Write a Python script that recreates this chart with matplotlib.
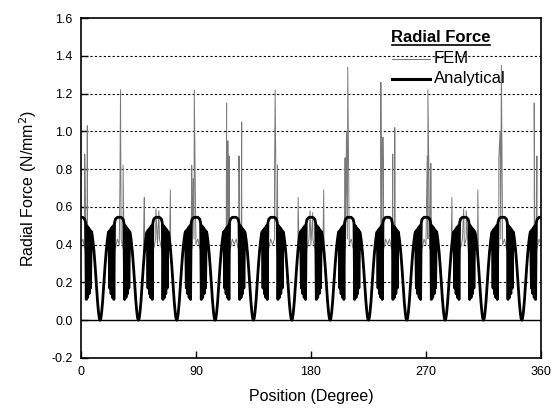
import numpy as np
import matplotlib
matplotlib.use("Agg")
import matplotlib.pyplot as plt
from matplotlib.lines import Line2D

plt.rcParams['font.family'] = ['Liberation Sans', 'DejaVu Sans']

# hump centres (one every 30 deg) and one-sided profiles
pole_centres = [0, 30, 60, 90, 120, 150, 180, 210, 240, 270, 300, 330, 360]

side_offset = [0, 1.5, 3.0, 3.7, 4.2, 4.8, 5.3, 5.9, 6.4, 7.0, 7.5, 8.1, 8.6,
               9.4, 10.3, 11.2, 12.1, 13.0, 13.8, 14.4, 15.0]
analytical_side = [0.545, 0.545, 0.535, 0.515, 0.11, 0.50, 0.12, 0.49, 0.14, 0.48,
                   0.17, 0.47, 0.46, 0.42, 0.36, 0.28, 0.19, 0.10, 0.04, 0.01, 0.0]
fem_side = [0.40, 0.43, 0.38, 0.41, 0.14, 0.40, 0.16, 0.42, 0.18, 0.40,
            0.22, 0.45, 0.44, 0.40, 0.34, 0.26, 0.17, 0.09, 0.035, 0.01, 0.0]

# FEM spikes: position (deg) and peak value
spike_pos = [3.0, 5.0, 30.5, 31.0, 33.0, 49.6, 58.7, 61.0, 70.0, 86.7, 87.8, 88.7,
             114.0, 115.0, 116.0, 123.7, 125.8, 151.5, 152.0, 153.8, 170.0, 179.3,
             181.4, 190.0, 206.7, 207.8, 208.8, 234.7, 236.3, 244.0, 245.6, 271.0,
             271.5, 273.8, 290.3, 299.5, 301.5, 310.6, 327.0, 328.0, 329.0,
             354.7, 356.8]
spike_val = [0.88, 1.03, 0.70, 1.22, 0.82, 0.65, 0.59, 0.58, 0.69, 0.82, 0.75, 1.22,
             1.15, 0.95, 0.87, 0.87, 1.05, 0.78, 1.22, 0.82, 0.65, 0.58,
             0.57, 0.69, 0.86, 1.00, 1.34, 1.26, 0.97, 0.88, 1.02, 0.87,
             1.22, 0.83, 0.65, 0.59, 0.58, 0.69, 0.86, 1.00, 1.35,
             1.15, 0.87]

y_ticks = [-0.2, 0.0, 0.2, 0.4, 0.6, 0.8, 1.0, 1.2, 1.4, 1.6]
x_ticks = [0, 90, 180, 270, 360]


def one_pitch(side):
    off = np.array(side_offset)
    val = np.array(side)
    return np.concatenate([-off[::-1], off[1:]]), np.concatenate([val[::-1], val[1:]])


def build(side):
    off, val = one_pitch(side)
    xs = np.concatenate([c + off for c in pole_centres])
    ys = np.tile(val, len(pole_centres))
    return xs, ys


xa, ya = build(analytical_side)
xf, yf = build(fem_side)
xf = np.concatenate([xf, spike_pos])
yf = np.concatenate([yf, spike_val])
order = np.argsort(xf, kind='stable')
xf, yf = xf[order], yf[order]

fig = plt.figure(figsize=(5.58, 4.11), dpi=100)
ax = fig.add_axes([0.145, 0.129, 0.8245, 0.827])

for yv in y_ticks[2:-1]:
    ax.axhline(yv, color='black', lw=0.8, ls=(0, (2, 2)), zorder=1)
ax.axhline(0.0, color='black', lw=1.0, zorder=1)

# FEM underneath so the slot ripples of the analytical curve stay black
ax.plot(xf, yf, color='#7a7a7a', lw=0.7, zorder=2)
ax.plot(xa, ya, color='black', lw=2.0, zorder=3)

ax.set_xlim(0, 360)
ax.set_ylim(-0.2, 1.6)
ax.set_xticks(x_ticks)
ax.set_yticks(y_ticks)
ax.set_yticklabels([f"{v:.1f}" for v in y_ticks])
ax.tick_params(direction='in', length=5, width=1.0, labelsize=9,
               top=False, right=False, pad=6)
for s in ax.spines.values():
    s.set_linewidth(1.2)
    s.set_zorder(4)

ax.set_xlabel("Position (Degree)", fontsize=11.5, labelpad=8)
ax.set_ylabel("Radial Force (N/mm$^2$)", fontsize=11.5, labelpad=9)

# legend drawn by hand, in pixel positions
W, H = 558.0, 411.0
fig.text(441 / W, 1 - 38 / H, "Radial Force", fontsize=12, fontweight='bold',
         ha='center', va='center')
fig.add_artist(Line2D([392 / W, 490 / W], [1 - 45 / H, 1 - 45 / H],
                      color='black', lw=1.2))
fig.add_artist(Line2D([392 / W, 430 / W], [1 - 59 / H, 1 - 59 / H],
                      color='#7a7a7a', lw=0.8))
fig.text(434 / W, 1 - 58.5 / H, "FEM", fontsize=12, ha='left', va='center')
fig.add_artist(Line2D([392 / W, 430 / W], [1 - 79 / H, 1 - 79 / H],
                      color='black', lw=2.2))
fig.text(434 / W, 1 - 79 / H, "Analytical", fontsize=12, ha='left', va='center')

fig.savefig("out.png", dpi=100)
